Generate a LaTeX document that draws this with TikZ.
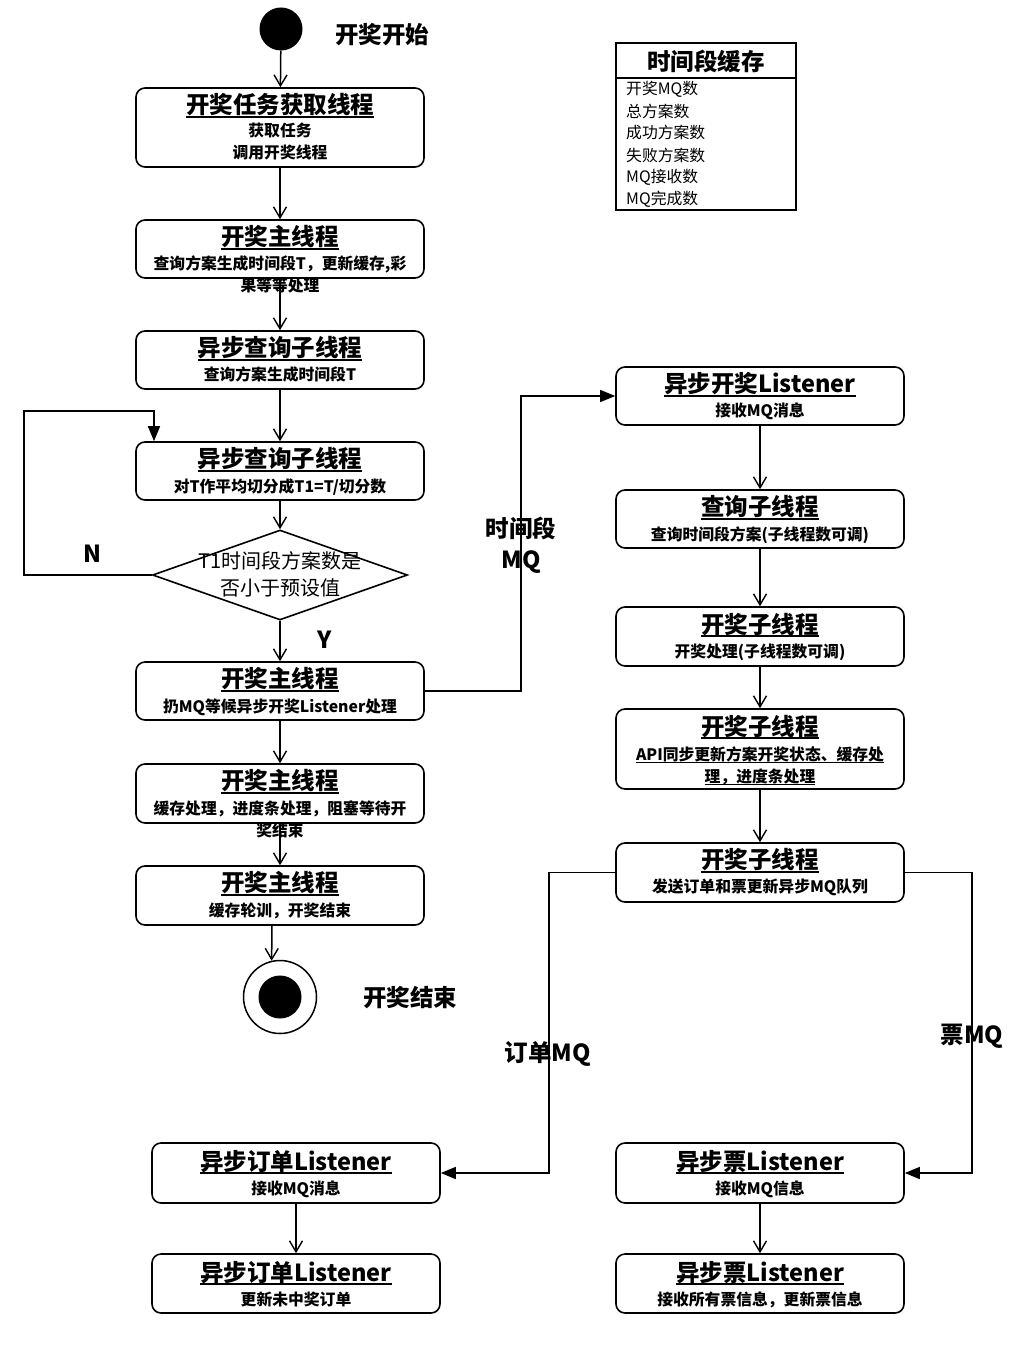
\documentclass[tikz,border=0pt]{standalone}
\usepackage{fontspec}
\setmainfont{Noto Sans CJK SC}
\usetikzlibrary{arrows.meta,shapes.geometric}
% underlined text with a rule of chosen depth and thickness
\newcommand\ulbox[3]{\setbox0\hbox{#3}\rlap{\usebox0}\rule[-#1]{\wd0}{#2}}
\newcommand\uth[1]{\ulbox{4.2pt}{1.8pt}{#1}}
\newcommand\utn[1]{\ulbox{3.2pt}{1.1pt}{#1}}
\tikzset{
  abox/.style={draw, line width=1.6pt, rounded corners=9pt, minimum width=288pt, inner sep=0pt},
  ttl/.style={font=\bfseries\fontsize{23.5}{23.5}\selectfont, inner sep=0pt, anchor=base},
  bod/.style={font=\bfseries\fontsize{15.8}{15.8}\selectfont, inner sep=0pt, anchor=base},
  lbl/.style={font=\bfseries\fontsize{23.5}{23.5}\selectfont, inner sep=0pt},
  itm/.style={font=\fontsize{15.8}{15.8}\selectfont, inner sep=0pt, anchor=west},
  conn/.style={line width=1.5pt},
  thin/.style={line width=1.1pt},
  openarr/.style={-{Straight Barb[length=11pt,width=13pt,line width=1.4pt]}},
  filarr/.style={-{Triangle[length=15pt,width=12pt]}},
}
\begin{document}
\begin{tikzpicture}[x=1pt,y=-1pt]
\useasboundingbox (0,0) rectangle (1030,1372);
\fill[white] (0,0) rectangle (1030,1372);

% start and end states
\node[circle, fill=black, minimum size=43pt, inner sep=0pt] (start) at (281,29) {};
\node[lbl] (startlbl) at (382,35) {开奖开始};
\node[circle, draw, line width=1.5pt, minimum size=73pt, inner sep=0pt] (end) at (280,997) {};
\node[circle, fill=black, minimum size=43pt, inner sep=0pt] (endin) at (280,997) {};
\node[lbl] (endlbl) at (410,998) {开奖结束};

% left column
\node[abox, minimum height=79pt] (b1) at (280,127.5) {};
\node[ttl] (b1t) at (280,113.5) {\uth{开奖任务获取线程}};
\node[bod] (b1a) at (280,137) {获取任务};
\node[bod] (b1b) at (280,159) {调用开奖线程};

\node[abox, minimum height=58pt] (b2) at (280,249) {};
\node[ttl] (b2t) at (280,245.5) {\uth{开奖主线程}};
\node[bod] (b2a) at (280,269.5) {查询方案生成时间段T，更新缓存,彩};
\node[bod] (b2b) at (280,291.5) {果等等处理};

\node[abox, minimum height=58pt] (b3) at (280,360) {};
\node[ttl] (b3t) at (280,356.5) {\uth{异步查询子线程}};
\node[bod] (b3a) at (280,380) {查询方案生成时间段T};

\node[abox, minimum height=58pt] (b4) at (280,471) {};
\node[ttl] (b4t) at (280,467.5) {\uth{异步查询子线程}};
\node[bod] (b4a) at (280,492) {对T作平均切分成T1=T/切分数};

\node[diamond, draw, line width=1.6pt, minimum width=255pt, minimum height=90pt, inner sep=0pt] (dia) at (280,575) {};
\node[font=\fontsize{20}{20}\selectfont, inner sep=0pt, anchor=base] (diaa) at (280,568.5) {T1时间段方案数是};
\node[font=\fontsize{20}{20}\selectfont, inner sep=0pt, anchor=base] (diab) at (280,595.5) {否小于预设值};

\node[abox, minimum height=58pt] (b5) at (280,691) {};
\node[ttl] (b5t) at (280,687.5) {\uth{开奖主线程}};
\node[bod] (b5a) at (280,712) {扔MQ等候异步开奖Listener处理};

\node[abox, minimum height=59pt] (b6) at (280,793.5) {};
\node[ttl] (b6t) at (280,789.5) {\uth{开奖主线程}};
\node[bod] (b6a) at (280,814) {缓存处理，进度条处理，阻塞等待开};
\node[bod] (b6b) at (280,836) {奖结束};

\node[abox, minimum height=59pt] (b7) at (280,895.5) {};
\node[ttl] (b7t) at (280,891.5) {\uth{开奖主线程}};
\node[bod] (b7a) at (280,916) {缓存轮训，开奖结束};

% right column
\node[abox, minimum height=58pt] (r1) at (760,396) {};
\node[ttl] (r1t) at (760,392.5) {\uth{异步开奖Listener}};
\node[bod] (r1a) at (760,416) {接收MQ消息};

\node[abox, minimum height=58pt] (r2) at (760,519) {};
\node[ttl] (r2t) at (760,515.5) {\uth{查询子线程}};
\node[bod] (r2a) at (760,540) {查询时间段方案(子线程数可调)};

\node[abox, minimum height=59pt] (r3) at (760,636.5) {};
\node[ttl] (r3t) at (760,633) {\uth{开奖子线程}};
\node[bod] (r3a) at (760,657) {开奖处理(子线程数可调)};

\node[abox, minimum height=80pt] (r4) at (760,749) {};
\node[ttl] (r4t) at (760,735) {\uth{开奖子线程}};
\node[bod] (r4a) at (760,760) {\utn{API同步更新方案开奖状态、缓存处}};
\node[bod] (r4b) at (760,782) {\utn{理，进度条处理}};

\node[abox, minimum height=59pt] (r5) at (760,872.5) {};
\node[ttl] (r5t) at (760,868.5) {\uth{开奖子线程}};
\node[bod] (r5a) at (760,892) {发送订单和票更新异步MQ队列};

% bottom listeners
\node[abox, minimum height=60pt] (bl1) at (296,1173) {};
\node[ttl] (bl1t) at (296,1170) {\uth{异步订单Listener}};
\node[bod] (bl1a) at (296,1194) {接收MQ消息};

\node[abox, minimum height=59pt] (bl2) at (296,1283.5) {};
\node[ttl] (bl2t) at (296,1281) {\uth{异步订单Listener}};
\node[bod] (bl2a) at (296,1305) {更新未中奖订单};

\node[abox, minimum height=60pt] (br1) at (760,1173) {};
\node[ttl] (br1t) at (760,1170) {\uth{异步票Listener}};
\node[bod] (br1a) at (760,1194) {接收MQ信息};

\node[abox, minimum height=59pt] (br2) at (760,1283.5) {};
\node[ttl] (br2t) at (760,1281) {\uth{异步票Listener}};
\node[bod] (br2a) at (760,1305) {接收所有票信息，更新票信息};

% cache legend
\node[draw, line width=1.5pt, minimum width=180pt, minimum height=167pt, inner sep=0pt] (cache) at (706,126.5) {};
\draw[line width=1.5pt] (616,78) -- (796,78);
\node[lbl] (cachet) at (706,61) {时间段缓存};
\node[itm] (c1) at (626,89) {开奖MQ数};
\node[itm] (c2) at (626,111) {总方案数};
\node[itm] (c3) at (626,133) {成功方案数};
\node[itm] (c4) at (626,155) {失败方案数};
\node[itm] (c5) at (626,177) {MQ接收数};
\node[itm] (c6) at (626,199) {MQ完成数};

% connector bends
\coordinate (nl) at (24,575);
\coordinate (nt) at (154,411);
\coordinate (mqx) at (521,396);
\coordinate (ox) at (549,1173);
\coordinate (tx) at (972,1173);

% main flow
\draw[conn, openarr] (start) -- (b1);
\draw[conn, openarr] (b1) -- (b2);
\draw[conn, openarr] (b2) -- (b3);
\draw[conn, openarr] (b3) -- (b4);
\draw[conn, openarr] (b4) -- (dia);
\draw[conn, openarr] (dia) -- (b5);
\draw[conn, openarr] (b5) -- (b6);
\draw[conn, openarr] (b6) -- (b7);
\draw[conn, openarr] ([xshift=-8pt]b7.south) -- (end.103);
\draw[conn, filarr] (dia.west) -- (nl) |- (nt) -- (nt |- b4.north);
\draw[conn, filarr] (b5.east) -| (mqx) -- (r1.west);

% listener flow
\draw[thin, openarr] (r1) -- (r2);
\draw[thin, openarr] (r2) -- (r3);
\draw[thin, openarr] (r3) -- (r4);
\draw[thin, openarr] (r4) -- (r5);
\draw[conn, filarr] (r5.west) -| (ox) -- (bl1.east);
\draw[conn, filarr] (r5.east) -| (tx) -- (br1.east);
\draw[thin, openarr] (bl1) -- (bl2);
\draw[thin, openarr] (br1) -- (br2);

% connector labels
\node[lbl] (nlbl) at (92,554) {N};
\node[lbl] (ylbl) at (325,640) {Y};
\node[lbl] (mq1) at (521,528) {时间段};
\node[lbl] (mq2) at (521,562) {MQ};
\node[lbl] (olbl) at (548,1054) {订单MQ};
\node[lbl] (tlbl) at (972,1036) {票MQ};
\end{tikzpicture}
\end{document}
